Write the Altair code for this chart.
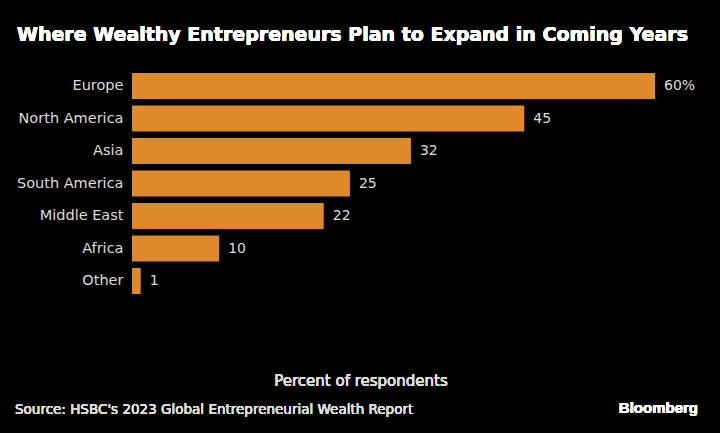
import altair as alt
import pandas as pd

regions = ["Europe", "North America", "Asia", "South America", "Middle East", "Africa", "Other"]
values = [60, 45, 32, 25, 22, 10, 1]
labels = ["60%", "45", "32", "25", "22", "10", "1"]

title_text = "Where Wealthy Entrepreneurs Plan to Expand in Coming Years"
axis_title = "Percent of respondents"
source_text = "Source: HSBC's 2023 Global Entrepreneurial Wealth Report"
brand_text = "Bloomberg"

df = pd.DataFrame({"region": regions, "value": values, "label": labels})

FONT = "DejaVu Sans"
BAR = "#DE8A2A"
TXT = "#dcdcdc"

x = alt.X("value:Q", scale=alt.Scale(domain=[0, 60], nice=False), axis=None)
y = alt.Y("region:N", sort=regions, scale=alt.Scale(paddingInner=0.2, paddingOuter=0.1),
          axis=alt.Axis(title=None, domain=False, ticks=False, grid=False, labelPadding=9,
                        labelFont=FONT, labelFontSize=14.5, labelColor=TXT))

bars = alt.Chart(df).mark_bar(color=BAR).encode(x=x, y=y)
vals = alt.Chart(df).mark_text(align="left", baseline="middle", dx=9, font=FONT,
                                fontSize=14, color=TXT).encode(x=x, y=y, text="label:N")

title = alt.Chart(df).mark_text(align="left", baseline="alphabetic", font=FONT, fontSize=19,
                                 fontWeight="bold", color="white", text=title_text).encode(
    x=alt.value(-115), y=alt.value(-28.75))
xtitle = alt.Chart(df).mark_text(align="center", baseline="alphabetic", font=FONT, fontSize=15,
                                  color=TXT, text=axis_title).encode(
    x=alt.value(229), y=alt.value(316))
source = alt.Chart(df).mark_text(align="left", baseline="alphabetic", font=FONT, fontSize=13.5,
                                  color=TXT, text=source_text).encode(
    x=alt.value(-117), y=alt.value(344))
brand = alt.Chart(df).mark_text(align="right", baseline="alphabetic", font="Liberation Sans", fontSize=15,
                                 fontWeight="bold", color="white", text=brand_text).encode(
    x=alt.value(566), y=alt.value(343))

chart = alt.layer(bars, vals, title, xtitle, source, brand).properties(
    width=523, height=227.5,
    autosize=alt.AutoSizeParams(type="none"),
    padding={"left": 132, "top": 69.75, "right": 65, "bottom": 135.75},
    background="black",
).configure_view(stroke=None)

chart.save("out.html", embed_options={"renderer": "svg", "actions": False})
